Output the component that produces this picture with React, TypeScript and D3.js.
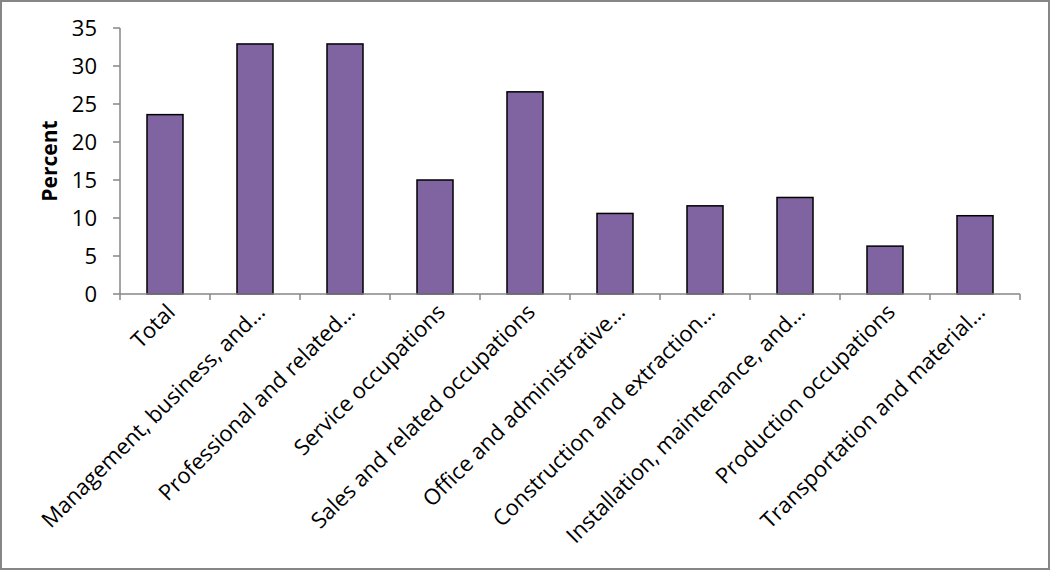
import React from "react";
import * as d3 from "d3";

const categories = [
  "Total",
  "Management, business, and…",
  "Professional and related…",
  "Service occupations",
  "Sales and related occupations",
  "Office and administrative…",
  "Construction and extraction…",
  "Installation, maintenance, and…",
  "Production occupations",
  "Transportation and material…",
];
const values = [23.6, 32.9, 32.9, 15.0, 26.6, 10.6, 11.6, 12.7, 6.3, 10.3];
const yTicks = [0, 5, 10, 15, 20, 25, 30, 35];
const yLabel = "Percent";

const W = 1050;
const H = 570;
const FONT = "'Open Sans', sans-serif";

export default function App() {
  const x = d3
    .scaleBand<string>()
    .domain(categories)
    .range([120, 1020])
    .paddingInner(0.6)
    .paddingOuter(0.3);
  const y = d3.scaleLinear().domain([0, 35]).range([294, 28]);
  const step = x.step();
  const axisColor = "#868686";

  return (
    <svg
      width={W}
      height={H}
      style={{ position: "absolute", left: 0, top: 0, background: "#fff" }}
      fontFamily={FONT}
    >
      <rect x={1} y={1} width={W - 2} height={H - 2} fill="#fff" stroke={axisColor} strokeWidth={2} />
      {categories.map((c, i) => (
        <rect
          key={c}
          x={x(c)!}
          y={y(values[i])}
          width={x.bandwidth()}
          height={y(0) - y(values[i])}
          fill="#8064A2"
          stroke="#000"
          strokeWidth={1.5}
        />
      ))}
      <line x1={120} x2={120} y1={y(35)} y2={y(0)} stroke={axisColor} strokeWidth={1.5} />
      {yTicks.map((t) => (
        <g key={t}>
          <line x1={113} x2={120} y1={y(t)} y2={y(t)} stroke={axisColor} strokeWidth={1.5} />
          <text x={97} y={y(t)} dy="0.35em" textAnchor="end" fontSize={22} fill="#000">
            {t}
          </text>
        </g>
      ))}
      <line x1={120} x2={1020} y1={y(0)} y2={y(0)} stroke={axisColor} strokeWidth={1.5} />
      {d3.range(categories.length + 1).map((k) => (
        <line
          key={k}
          x1={120 + k * step}
          x2={120 + k * step}
          y1={y(0)}
          y2={y(0) + 6}
          stroke={axisColor}
          strokeWidth={1.5}
        />
      ))}
      {categories.map((c) => {
        const cx = x(c)! + x.bandwidth() / 2 + 6;
        const cy = y(0) + 14;
        return (
          <text
            key={c}
            transform={`translate(${cx},${cy}) rotate(-45)`}
            textAnchor="end"
            dy="0.35em"
            fontSize={22}
            fill="#000"
          >
            {c}
          </text>
        );
      })}
      <text
        transform={`translate(57,${(y(0) + y(35)) / 2}) rotate(-90)`}
        textAnchor="middle"
        fontSize={21}
        fontWeight="bold"
        fill="#000"
      >
        {yLabel}
      </text>
    </svg>
  );
}
